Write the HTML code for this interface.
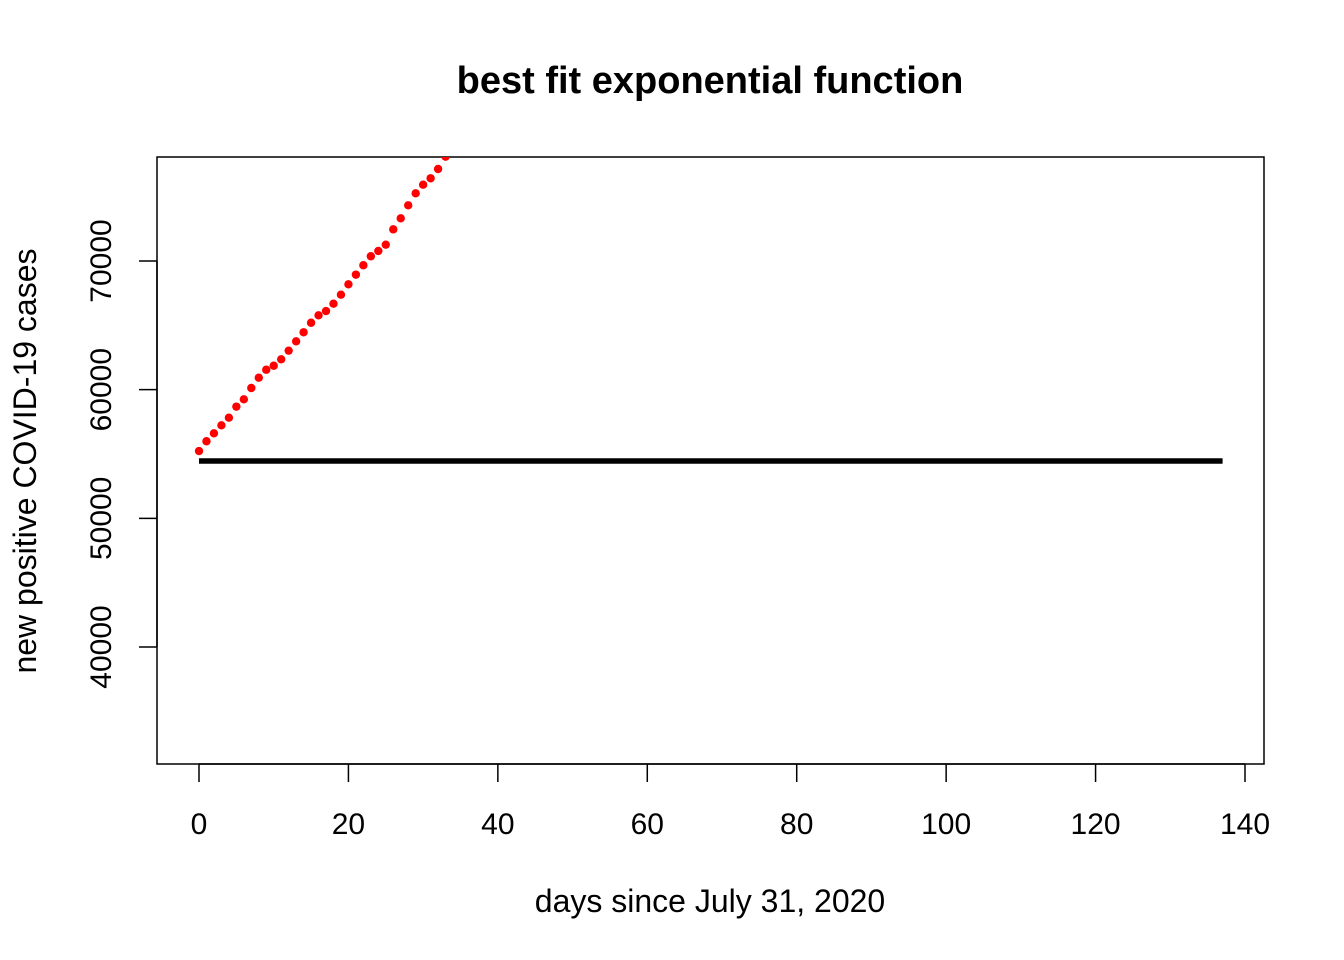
<!DOCTYPE html>
<html><head><meta charset="utf-8"><style>
body{margin:0;background:#fff}
svg{display:block;font-family:"Liberation Sans",Arial,sans-serif}
</style></head><body>
<svg id="chart" width="1344" height="960">
<defs><clipPath id="clip"><rect x="157" y="157" width="1107" height="607"/></clipPath></defs>
<rect width="1344" height="960" fill="#fff"/>
<text x="710" y="93" text-anchor="middle" font-size="38" font-weight="bold">best fit exponential function</text>
<text x="710" y="912" text-anchor="middle" font-size="32">days since July 31, 2020</text>
<text transform="translate(36,461) rotate(-90)" text-anchor="middle" font-size="32">new positive COVID-19 cases</text>
<rect x="157" y="157" width="1107" height="607" fill="none" stroke="#000" stroke-width="1.5"/>
<g id="xaxis"></g>
<g id="yaxis"></g>
<g id="marks" clip-path="url(#clip)"></g>
</svg>
<script>
const xTicks=[0,20,40,60,80,100,120,140];
const yTicks=[40000,50000,60000,70000];
const fitStart=0, fitEnd=137;
const fitValue=[54456];
const days=[0,1,2,3,4,5,6,7,8,9,10,11,12,13,14,15,16,17,18,19,20,21,22,23,24,25,26,27,28,29,30,31,32,33];
const cases=[55230,55990,56610,57230,57820,58680,59250,60130,60930,61550,61860,62360,63030,63760,64460,65200,65780,66110,66680,67380,68190,68940,69670,70370,70780,71270,72460,73320,74330,75260,75930,76430,77150,78110];
const NS='http://www.w3.org/2000/svg';
const X=v=>199+v*(1245-199)/140;
const Y=v=>261+(70000-v)*(647-261)/30000;
function mk(t,a,p){const e=document.createElementNS(NS,t);for(const k in a)e.setAttribute(k,a[k]);p.appendChild(e);return e;}
const xa=document.getElementById('xaxis'),ya=document.getElementById('yaxis'),m=document.getElementById('marks');
mk('line',{x1:X(xTicks[0]),x2:X(xTicks[xTicks.length-1]),y1:764,y2:764,stroke:'#000','stroke-width':1.5},xa);
xTicks.forEach(t=>{
 const l=mk('line',{x1:X(t),x2:X(t),y1:764,y2:782,stroke:'#000','stroke-width':1.5},xa);
 
 
 const tx=mk('text',{x:X(t),y:834,'text-anchor':'middle','font-size':30},xa);tx.textContent=t;
 
 
});
mk('line',{x1:157,x2:157,y1:Y(yTicks[0]),y2:Y(yTicks[yTicks.length-1]),stroke:'#000','stroke-width':1.5},ya);
yTicks.forEach(t=>{
 const l=mk('line',{x1:139,x2:157,y1:Y(t),y2:Y(t),stroke:'#000','stroke-width':1.5},ya);
 
 
 const tx=mk('text',{transform:`translate(111,${Y(t)}) rotate(-90)`,'text-anchor':'middle','font-size':30},ya);tx.textContent=t;
 
 
});
const fl=mk('line',{x1:X(fitStart),x2:X(fitEnd),y1:Y(fitValue[0]),y2:Y(fitValue[0]),stroke:'#000','stroke-width':5.5},m);


days.forEach((d,i)=>{
 const c=mk('circle',{cx:X(d),cy:Y(cases[i]),r:4.2,fill:'#ff0000'},m);
 
 
});
</script>
</body></html>
